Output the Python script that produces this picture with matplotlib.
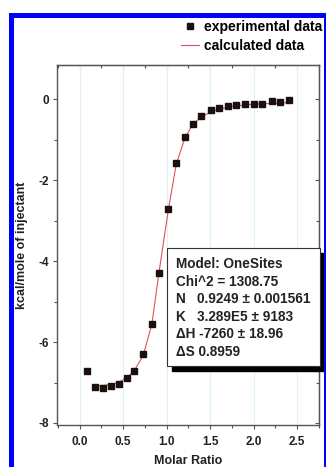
import numpy as np
import matplotlib
matplotlib.use("Agg")
import matplotlib.pyplot as plt
from matplotlib.patches import Rectangle
from matplotlib.ticker import MultipleLocator, FormatStrFormatter

plt.rcParams['font.family'] = ['Liberation Sans', 'DejaVu Sans']
plt.rcParams['font.weight'] = 'bold'
plt.rcParams['axes.unicode_minus'] = False

# ------------------------------
# Data
# ------------------------------
ratio_exp = [0.09, 0.18, 0.27, 0.36, 0.45, 0.54, 0.63, 0.73, 0.83, 0.91,
             1.02, 1.11, 1.21, 1.30, 1.40, 1.51, 1.60, 1.71, 1.80, 1.90,
             2.00, 2.10, 2.21, 2.30, 2.41]
heat_exp = [-6.72, -7.10, -7.14, -7.09, -7.04, -6.89, -6.71, -6.30, -5.56, -4.28,
            -2.72, -1.57, -0.93, -0.60, -0.41, -0.27, -0.21, -0.16, -0.14, -0.12,
            -0.12, -0.11, -0.04, -0.07, -0.02]

ratio_fit = [0.18, 0.27, 0.36, 0.45, 0.54, 0.63, 0.73, 0.83, 0.91,
             1.02, 1.11, 1.21, 1.30, 1.40, 1.51, 1.60, 1.71, 1.80, 1.90,
             2.00, 2.10, 2.21, 2.30, 2.41]
heat_fit = [-7.08, -7.07, -7.05, -6.99, -6.89, -6.70, -6.33, -5.56, -4.30,
            -2.72, -1.60, -0.95, -0.62, -0.43, -0.31, -0.24, -0.19, -0.16, -0.14,
            -0.12, -0.11, -0.10, -0.09, -0.08]

fit_lines = ["Model: OneSites",
             "Chi^2 = 1308.75",
             "N   0.9249 \u00b1 0.001561",
             "K   3.289E5 \u00b1 9183",
             "\u0394H -7260 \u00b1 18.96",
             "\u0394S 0.8959"]

# ------------------------------
# Figure
# ------------------------------
W, H = 326, 467
fig = plt.figure(figsize=(W / 100, H / 100), dpi=100)
ax = fig.add_axes([57 / W, 1 - 425 / H, (319 - 57) / W, (425 - 65) / H])

ax.xaxis.grid(True, color='#ddf3f6', lw=0.8)
ax.set_axisbelow(True)

ax.plot(ratio_fit, heat_fit, color='#e0505a', lw=0.8, label='calculated data', zorder=2)
ax.plot(ratio_exp, heat_exp, 's', color='#1a1010', ms=4.5, mec='#1a1010',
        label='experimental data', zorder=3)

ax.set_xlim(-0.26, 2.75)
ax.set_ylim(-8.05, 0.85)
ax.xaxis.set_major_locator(MultipleLocator(0.5))
ax.xaxis.set_minor_locator(MultipleLocator(0.25))
ax.yaxis.set_major_locator(MultipleLocator(2))
ax.yaxis.set_minor_locator(MultipleLocator(1))
ax.xaxis.set_major_formatter(FormatStrFormatter('%.1f'))

for s in ax.spines.values():
    s.set_color('#555555')
    s.set_linewidth(1.0)

ax.tick_params(axis='both', which='both', direction='out', colors='#555555',
               labelcolor='#222222', labelsize=8.5, width=0.8)
ax.tick_params(which='major', length=3)
ax.tick_params(which='minor', length=2)
ax.tick_params(axis='x', pad=5)
ax.tick_params(axis='y', pad=3)

# inward ticks on top and right
sx = ax.secondary_xaxis('top')
sx.xaxis.set_major_locator(MultipleLocator(0.5))
sx.xaxis.set_minor_locator(MultipleLocator(0.25))
sx.tick_params(which='both', direction='in', labeltop=False, colors='#555555', width=0.8)
sx.tick_params(which='major', length=3)
sx.tick_params(which='minor', length=2)
sy = ax.secondary_yaxis('right')
sy.yaxis.set_major_locator(MultipleLocator(2))
sy.yaxis.set_minor_locator(MultipleLocator(1))
sy.tick_params(which='both', direction='in', labelright=False, colors='#555555', width=0.8)
sy.tick_params(which='major', length=3)
sy.tick_params(which='minor', length=2)

ax.set_xlabel('Molar Ratio', fontsize=9, fontweight='bold', color='#222222', labelpad=5)
ax.set_ylabel('kcal/mole of injectant', fontsize=9, fontweight='bold', color='#222222', labelpad=7)

# legend
h, l = ax.get_legend_handles_labels()
fig.legend(h[::-1], l[::-1], loc='upper right', bbox_to_anchor=(331 / W, 1 - 12 / H),
           frameon=False, fontsize=10, handlelength=1.3, handletextpad=0.4,
           labelspacing=0.3, borderaxespad=0.2, markerscale=0.9)

# fit result box with shadow
bx0, bx1 = 167 / W, 320 / W
by1, by0 = 1 - 248 / H, 1 - 366 / H
fig.patches.append(Rectangle((bx0 + 5 / W, by0 - 5 / H), bx1 - bx0, by1 - by0,
                             transform=fig.transFigure, facecolor='black',
                             edgecolor='black', zorder=5))
fig.patches.append(Rectangle((bx0, by0), bx1 - bx0, by1 - by0,
                             transform=fig.transFigure, facecolor='white',
                             edgecolor='#333333', lw=0.8, zorder=6))
for i, line in enumerate(fit_lines):
    fig.text(176 / W, 1 - (264 + i * 17.6) / H, line, fontsize=9.8, fontweight='bold',
             color='#222222', va='center', ha='left', zorder=7)

# blue frame
fig.patches.append(Rectangle((10.5 / W, -0.05), (325.5 - 10.5) / W, 1.05 - 14.5 / H,
                             transform=fig.transFigure, fill=False,
                             edgecolor='#0000ff', lw=3.6, zorder=10))

fig.savefig('out.png', dpi=100)
